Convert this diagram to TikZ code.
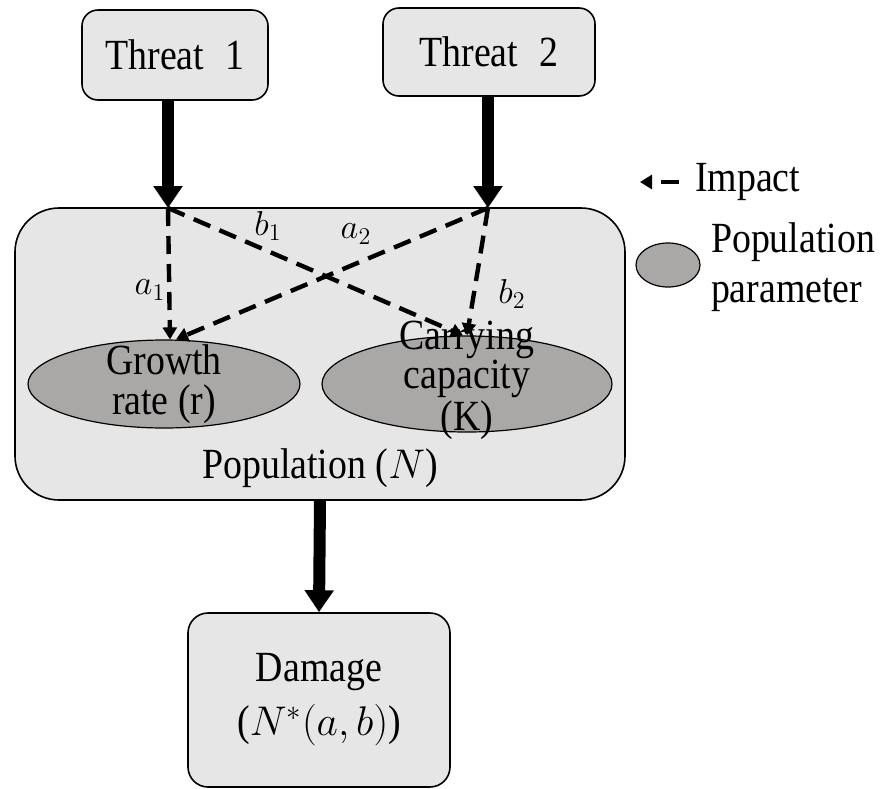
\documentclass[tikz,border=0pt]{standalone}
\usepackage{fontspec}
\setmainfont{Liberation Serif}[FakeStretch=0.88]
\usepackage{tikz}
\usetikzlibrary{arrows.meta,shapes.geometric}
\definecolor{boxgray}{RGB}{230,230,230}
\definecolor{paramgray}{RGB}{170,167,167}

\begin{document}
\begin{tikzpicture}[x=0.5pt,y=-0.5pt,
    every node/.style={font=\fontsize{21.5}{20}\selectfont},
    threatbox/.style={draw,fill=boxgray,rounded corners=8pt,line width=0.8pt},
    popbox/.style={draw,fill=boxgray,rounded corners=22pt,line width=0.8pt,minimum width=305pt,minimum height=146pt},
    param/.style={draw,ellipse,fill=paramgray,line width=0.6pt,inner sep=0pt},
    bigarrow/.style={line width=6pt,-{Triangle[length=11pt,width=14pt]}},
    impact/.style={line width=2.2pt,dash pattern=on 9pt off 5pt,-{Triangle[length=6pt,width=7pt]}},
    coef/.style={font=\fontsize{17}{18}\selectfont}]
      \useasboundingbox (0,0) rectangle (884,788);
      \node[threatbox,minimum width=93pt,minimum height=45pt] (t1) at (175,55) {Threat\enspace 1};
      \node[threatbox,minimum width=106pt,minimum height=44pt] (t2) at (489,52) {Threat\enspace 2};
      \node[popbox] (pop) at (320,354) {};
      \node (poplbl) at (320,468) {Population ($N$)};
      \coordinate (h1) at (168,208);
      \coordinate (h2) at (488,208);
      \draw[bigarrow] (t1.south -| h1) -- (h1);
      \draw[bigarrow] (t2.south -| h2) -- (h2);
      \node[param,minimum width=136pt,minimum height=44pt] (growth) at (164,384) {};
      \node[align=center,font=\fontsize{21.5}{20}\selectfont] at (growth) {Growth\\rate (r)};
      \node[param,minimum width=145pt,minimum height=48pt] (cap) at (467,384) {};
      \node[align=center,font=\fontsize{21.5}{18.5}\selectfont] at ([yshift=2pt]cap) {Carrying\\capacity\\(K)};
      \draw[impact] (h1) -- ([xshift=3pt]growth.north);
      \draw[impact] (h1) -- ([xshift=-2pt]cap.north);
      \draw[impact] (h2) -- ([xshift=6pt]growth.north);
      \draw[impact] (h2) -- (cap.north);
      \node[coef] (a1) at (150,290) {$a_1$};
      \node[coef] (b1) at (268,226) {$b_1$};
      \node[coef] (a2) at (356,234) {$a_2$};
      \node[coef] (b2) at (512,294) {$b_2$};
      \node[threatbox,rounded corners=10pt,minimum width=131pt,minimum height=87pt,align=center,font=\fontsize{21.5}{27}\selectfont] (dmg) at (319,700) {Damage\\($N^*(a,b)$)};
      \draw[bigarrow] (pop.south) -- (dmg.north);
      % legend
      \coordinate (imp1) at (640,182);
      \coordinate (imp2) at (679,182);
      \draw[impact] (imp2) -- (imp1);
      \node[anchor=west] (implbl) at (688,182) {Impact};
      \node[param,minimum width=32pt,minimum height=22pt] (legpar) at (668,265) {};
      \node[anchor=west,align=left,font=\fontsize{21.5}{25}\selectfont] (parlbl) at (704,267) {Population\\parameter};
    \end{tikzpicture}
\end{document}
